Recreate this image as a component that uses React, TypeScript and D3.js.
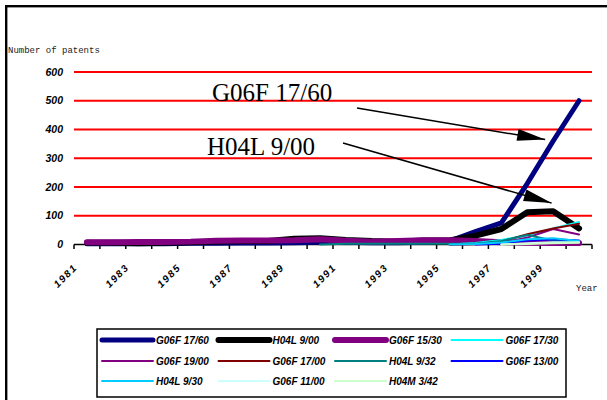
import * as React from 'react';
import * as d3 from 'd3';

const years = ['1981', '1982', '1983', '1984', '1985', '1986', '1987', '1988', '1989', '1990',
  '1991', '1992', '1993', '1994', '1995', '1996', '1997', '1998', '1999', '2000'];
const yTicks = [0, 100, 200, 300, 400, 500, 600];
const xTickLabels = ['1981', '1983', '1985', '1987', '1989', '1991', '1993', '1995', '1997', '1999'];

type V = number | null;
// values, 1981..2000
const g06f1760: V[] = [3, 3, 3, 3, 4, 4, 5, 5, 6, 8, 8, 6, 6, 8, 12, 45, 75, 212, 360, 500];
const h04l900: V[] = [6, 6, 4, 6, 8, 10, 12, 12, 20, 22, 16, 12, 10, 14, 14, 31, 54, 112, 116, 56];
const g06f1530: V[] = [8, 8, 9, 9, 10, 13, 14, 14, 15, 18, 13, 10, 12, 15, 15, 12, 8, 6, 5, 5];
const g06f1730: V[] = [null, null, null, null, null, null, null, null, null, null, null, null, null, null, 0, 5, 16, 32, 56, 78];
const g06f1900: V[] = [null, null, null, null, null, null, null, null, null, null, null, null, null, null, 0, 1, 5, 24, 54, 35];
const g06f1700: V[] = [null, null, null, null, null, null, null, null, null, null, null, null, null, null, 0, 2, 10, 36, 56, 72];
const h04l932: V[] = [null, null, null, null, null, null, null, null, null, 0, 3, 3, 3, 3, 3, 3, 12, 33, 14, 10];
const g06f1300: V[] = [null, null, null, null, null, null, null, null, null, null, null, null, null, null, null, 0, 3, 14, 18, 14];
const h04l930: V[] = [null, null, null, null, null, null, null, null, null, null, null, null, null, null, 0, 2, 7, 18, 22, 12];
const g06f1100: V[] = [null, null, null, null, null, null, null, null, null, null, null, null, null, null, null, null, 0, 4, 8, 8];
const h04m342: V[] = [null, null, null, null, null, null, null, null, null, null, null, null, null, null, null, null, 0, 2, 4, 6];

const seriesNames = ['G06F 17/60', 'H04L 9/00', 'G06F 15/30', 'G06F 17/30', 'G06F 19/00', 'G06F 17/00',
  'H04L 9/32', 'G06F 13/00', 'H04L 9/30', 'G06F 11/00', 'H04M 3/42'];
const seriesValues = [g06f1760, h04l900, g06f1530, g06f1730, g06f1900, g06f1700, h04l932, g06f1300, h04l930, g06f1100, h04m342];
const seriesColors = ['#000080', '#000000', '#800080', '#00FFFF', '#800080', '#800000', '#008080', '#0000FF', '#00CCFF', '#CCFFFF', '#CCFFCC'];
const seriesWidths = [5, 6, 6, 2, 2, 2, 2, 2, 2, 2, 2];

const W = 607;
const H = 400;
const left = 74;
const right = 592;
const top = 72;
const bottom = 244.5;

const boldItalic = { fontFamily: 'Arial, "Liberation Sans", sans-serif', fontWeight: 'bold', fontStyle: 'italic' } as const;

function arrowHead(x1: number, y1: number, x2: number, y2: number, len = 28, half = 6) {
  const dx = x2 - x1;
  const dy = y2 - y1;
  const d = Math.hypot(dx, dy);
  const ux = dx / d;
  const uy = dy / d;
  const bx = x2 - ux * len;
  const by = y2 - uy * len;
  return `${x2},${y2} ${bx - uy * half},${by + ux * half} ${bx + uy * half},${by - ux * half}`;
}

const App: React.FC = () => {
  const x = d3.scaleBand<string>().domain(years).range([left, right]).paddingInner(0).paddingOuter(0);
  const y = d3.scaleLinear().domain([0, 600]).range([bottom, top]);
  const bw = x.bandwidth();
  const xc = (yr: string) => (x(yr) || 0) + bw / 2;

  const line = d3.line<V>()
    .defined((d) => d !== null)
    .x((_, i) => xc(years[i]))
    .y((d) => y(d as number));

  const tickXs = years.map((yr) => x(yr) || 0).concat([(x(years[years.length - 1]) || 0) + bw]);

  // annotations
  const a1Tip: [number, number] = [xc('1999') - 8, y(365)];
  const a1Start: [number, number] = [357, 108];
  const a2Tip: [number, number] = [xc('1999') - 1.5, y(144)];
  const a2Start: [number, number] = [343, 143];

  const legendX0 = 102;
  const legendColW = 116.5;
  const legendRowY = [340, 361, 381];

  return (
    <svg width={W} height={H} style={{ position: 'absolute', left: 0, top: 0, background: '#fff' }}>
      <rect x={6.2} y={6.2} width={W + 20} height={H + 20} fill="#fff" stroke="#000" strokeWidth={2.4} />

      <text x={8} y={53} fontFamily='"Liberation Mono", "Courier New", monospace' fontSize={9} fill="#222">
        Number of patents
      </text>

      {yTicks.filter((v) => v > 0).map((v) => (
        <line key={v} x1={left} x2={right} y1={y(v)} y2={y(v)} stroke="#FF0000" strokeWidth={2} />
      ))}

      {yTicks.map((v) => (
        <text key={v} x={63} y={y(v)} dy="0.35em" textAnchor="end" fontSize={10.5} {...boldItalic}>
          {v}
        </text>
      ))}

      <line x1={left} x2={right} y1={bottom} y2={bottom} stroke="#000" strokeWidth={1.5} />
      {tickXs.map((tx, i) => (
        <line key={i} x1={tx} x2={tx} y1={bottom} y2={bottom + 4.5} stroke="#000" strokeWidth={1.5} />
      ))}

      {xTickLabels.map((lab) => (
        <text key={lab} transform={`translate(${xc(lab) - 9},${268}) rotate(-45)`} textAnchor="end" fontSize={10}
          letterSpacing={1.6} {...boldItalic}>
          {lab}
        </text>
      ))}

      <text x={576} y={291} fontFamily='"Liberation Mono", "Courier New", monospace' fontSize={9} fill="#222">
        Year
      </text>

      <g fill="none" strokeLinejoin="round" strokeLinecap="round">
        {seriesValues.map((vals, i) => (
          <path key={seriesNames[i]} d={line(vals) || ''} stroke={seriesColors[i]} strokeWidth={seriesWidths[i]} />
        ))}
      </g>

      <g>
        <text x={212} y={100.7} fontFamily='"Liberation Serif", "Times New Roman", serif' fontSize={25}>G06F 17/60</text>
        <text x={207} y={155} fontFamily='"Liberation Serif", "Times New Roman", serif' fontSize={25}>H04L 9/00</text>
        <line x1={a1Start[0]} y1={a1Start[1]} x2={a1Tip[0]} y2={a1Tip[1]} stroke="#000" strokeWidth={1.5} />
        <polygon points={arrowHead(a1Start[0], a1Start[1], a1Tip[0], a1Tip[1])} fill="#000" />
        <line x1={a2Start[0]} y1={a2Start[1]} x2={a2Tip[0]} y2={a2Tip[1]} stroke="#000" strokeWidth={1.5} />
        <polygon points={arrowHead(a2Start[0], a2Start[1], a2Tip[0], a2Tip[1])} fill="#000" />
      </g>

      <rect x={97} y={329} width={469} height={68} fill="#fff" stroke="#000" strokeWidth={1.5} />
      {seriesNames.map((name, i) => {
        const col = i % 4;
        const row = Math.floor(i / 4);
        const lx = legendX0 + col * legendColW;
        const ly = legendRowY[row];
        return (
          <g key={name}>
            <line x1={lx} x2={lx + 51} y1={ly} y2={ly} stroke={seriesColors[i]} strokeWidth={seriesWidths[i]} strokeLinecap="round" />
            <text x={lx + 54} y={ly} dy="0.35em" fontSize={10} {...boldItalic}>{name}</text>
          </g>
        );
      })}
    </svg>
  );
};

export default App;
